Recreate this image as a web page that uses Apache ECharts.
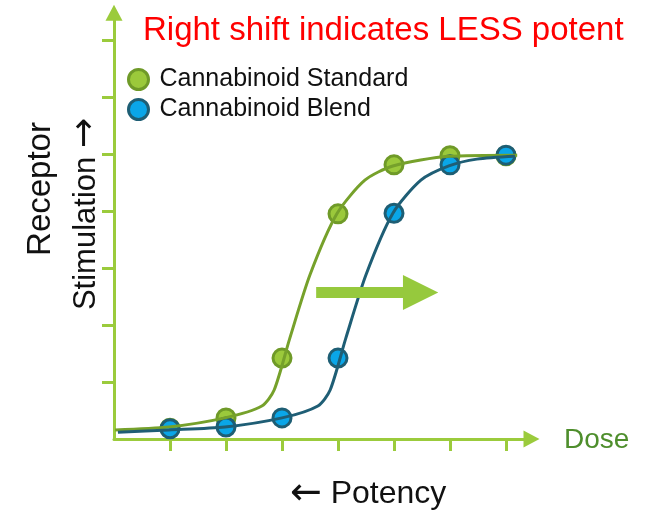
<!DOCTYPE html>
<html><head><meta charset="utf-8">
<script src="https://cdn.jsdelivr.net/npm/echarts@6/dist/echarts.min.js"></script>
<style>html,body{margin:0;padding:0;background:#fff}#c{width:659px;height:515px}</style>
</head><body><div id="c"></div>
<script>
// ---- data ----
var doseTicks = [1, 2, 3, 4, 5, 6, 7];
var stimTicks = [1, 2, 3, 4, 5, 6, 7];
var doseLevels = [1, 2, 3, 4, 5, 6, 7];
var standardValues = [0.19, 0.37, 1.42, 3.95, 4.81, 4.97, 4.97];
var blendValues = [0.18, 0.21, 0.37, 1.42, 3.96, 4.81, 4.98];
// fitted curves
var standardCurveX = [0.02, 0.98, 1.98, 2.64, 2.86, 3.14, 3.50, 3.98, 4.48, 4.98, 5.98, 7.20];
var standardCurveY = [0.16, 0.21, 0.37, 0.58, 0.86, 1.77, 2.88, 3.95, 4.54, 4.79, 4.96, 4.98];
var blendCurveX = [0.07, 0.98, 1.98, 3.00, 3.64, 3.86, 4.14, 4.50, 4.98, 5.48, 5.98, 6.48, 7.16];
var blendCurveY = [0.12, 0.16, 0.21, 0.37, 0.58, 0.86, 1.77, 2.88, 3.96, 4.54, 4.79, 4.91, 4.96];
// shift arrow annotation (data units)
var shiftArrowFrom = [3.61, 2.57];
var shiftArrowTo = [5.79, 2.57];
var shiftArrowHeadBase = 5.16;

function zip(a, b) { return a.map(function (v, i) { return [v, b[i]]; }); }

var axisColor = '#9BCB3C';
var greenFill = '#9BC93B', greenEdge = '#6F9A28', greenLine = '#76A12B';
var blueFill = '#0AA6E8', blueEdge = '#1E5E74', blueLine = '#1F5E75';
var FONT = '"Liberation Sans", Arial, sans-serif';
var ARROWFONT = '"DejaVu Sans", sans-serif';
var XMAX = 7.455, YMAX = 7.48;

var chart = echarts.init(document.getElementById('c'), null, {renderer: 'canvas'});
var option = {
  animation: false,
  backgroundColor: '#fff',
  title: {
    text: 'Right shift indicates LESS potent',
    left: 143, top: 14, padding: 0,
    textStyle: {color: '#FF0000', fontSize: 33, fontWeight: 'normal', fontFamily: FONT}
  },
  legend: {
    orient: 'vertical', left: 127, top: 67, padding: 0,
    itemWidth: 20, itemHeight: 20, itemGap: 5,
    textStyle: {color: '#111', fontSize: 25, fontFamily: FONT, padding: [0, 0, 0, 6]},
    data: [
      {name: 'Cannabinoid Standard', icon: 'circle', itemStyle: {color: greenFill, borderColor: greenEdge, borderWidth: 3}},
      {name: 'Cannabinoid Blend', icon: 'circle', itemStyle: {color: blueFill, borderColor: blueEdge, borderWidth: 3}}
    ]
  },
  grid: {left: 114, right: 659 - 114 - XMAX * 56, top: 439 - YMAX * 57, bottom: 76, containLabel: false},
  xAxis: {
    type: 'value', min: 0, max: XMAX,
    axisLine: {show: true, symbol: ['none', 'triangle'], symbolSize: [17, 16], lineStyle: {color: axisColor, width: 3}},
    axisTick: {show: true, customValues: doseTicks, length: 12, lineStyle: {color: axisColor, width: 3}},
    axisLabel: {show: false}, splitLine: {show: false}
  },
  yAxis: {
    type: 'value', min: 0, max: YMAX,
    axisLine: {show: true, symbol: ['none', 'triangle'], symbolSize: [17, 16], lineStyle: {color: axisColor, width: 3}},
    axisTick: {show: true, customValues: stimTicks, length: 12, lineStyle: {color: axisColor, width: 3}},
    axisLabel: {show: false}, splitLine: {show: false}
  },
  series: [
    {name: 'Cannabinoid Standard', type: 'scatter', data: zip(doseLevels, standardValues), symbolSize: 18,
      itemStyle: {color: greenFill, borderColor: greenEdge, borderWidth: 3, opacity: 1}},
    {name: 'Standard fit', type: 'line', data: zip(standardCurveX, standardCurveY), smooth: 0.25,
      showSymbol: false, lineStyle: {color: greenLine, width: 3}},
    {name: 'Cannabinoid Blend', type: 'scatter', data: zip(doseLevels, blendValues), symbolSize: 18,
      itemStyle: {color: blueFill, borderColor: blueEdge, borderWidth: 3, opacity: 1}},
    {name: 'Blend fit', type: 'line', data: zip(blendCurveX, blendCurveY), smooth: 0.25,
      showSymbol: false, lineStyle: {color: blueLine, width: 3}}
  ]
};
chart.setOption(option);

var p0 = chart.convertToPixel({gridIndex: 0}, shiftArrowFrom);
var p1 = chart.convertToPixel({gridIndex: 0}, shiftArrowTo);
var hb = chart.convertToPixel({gridIndex: 0}, [shiftArrowHeadBase, shiftArrowFrom[1]]);
var sh = 5.5, hh = 17.5;
chart.setOption({
  graphic: [
    {type: 'polygon', z: 10, shape: {points: [
      [p0[0], p0[1] - sh], [hb[0], p0[1] - sh], [hb[0], p0[1] - hh], [p1[0], p1[1]],
      [hb[0], p0[1] + hh], [hb[0], p0[1] + sh], [p0[0], p0[1] + sh]]},
      style: {fill: '#96C93D'}},
    {type: 'text', left: 564, top: 426, z: 10,
      style: {text: 'Dose', fill: '#4E8E2C', fontSize: 28, fontFamily: FONT}},
    {type: 'text', x: 290, y: 494, z: 10,
      style: {text: '{a|\u2190} Potency', fill: '#111', fontSize: 32, fontFamily: FONT, textVerticalAlign: 'middle',
        rich: {a: {fontFamily: ARROWFONT, fontSize: 38, fill: '#111'}}}},
    {type: 'text', x: 41, y: 189, rotation: Math.PI / 2, z: 10,
      style: {text: 'Receptor', fill: '#111', fontSize: 33, fontFamily: FONT, textAlign: 'center', textVerticalAlign: 'middle'}},
    {type: 'text', x: 86, y: 214, rotation: Math.PI / 2, z: 10,
      style: {text: 'Stimulation {a|\u2192}', fill: '#111', fontSize: 31, fontFamily: FONT, textAlign: 'center', textVerticalAlign: 'middle',
        rich: {a: {fontFamily: ARROWFONT, fontSize: 36, fill: '#111'}}}}
  ]
});
</script></body></html>
